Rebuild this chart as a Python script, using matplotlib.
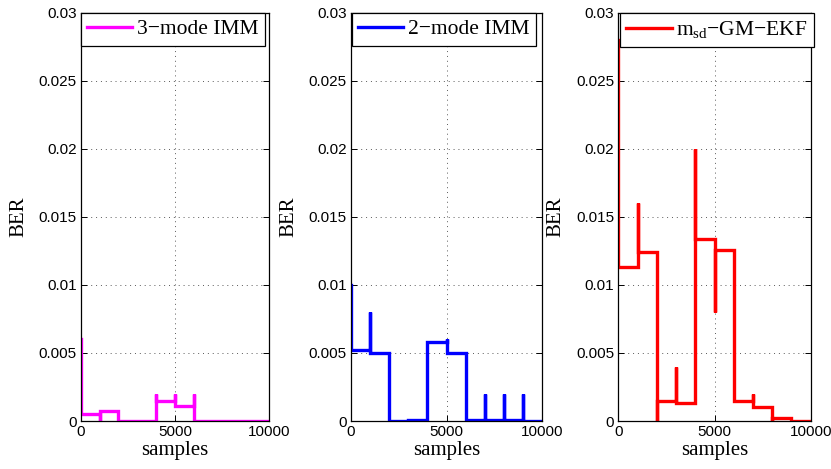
import numpy as np
import matplotlib
matplotlib.use("Agg")
from matplotlib import pyplot as plt

plt.rcParams['font.family'] = ['Liberation Serif', 'DejaVu Serif']
plt.rcParams['mathtext.fontset'] = 'custom'
plt.rcParams['mathtext.rm'] = 'Liberation Serif'
plt.rcParams['mathtext.it'] = 'Liberation Serif:italic'

# block edges (samples) and BER per block of 1000 samples
edges = [0, 1000, 2000, 3000, 4000, 5000, 6000, 7000, 8000, 9000, 10000]

imm3_blocks = [0.0005, 0.0007, 0, 0, 0.0015, 0.0011, 0, 0, 0, 0]
imm3_spikes = [0.006, 0, None, None, 0.002, 0.002, 0.002, None, None, None]

imm2_blocks = [0.0052, 0.005, 0, 0.0001, 0.0058, 0.005, 0.0001, 0.00005, 0.00005, 0.00003]
imm2_spikes = [0.01, 0.008, None, None, None, 0.006, None, 0.002, 0.002, 0.002]

ekf_blocks = [0.0113, 0.0124, 0.0015, 0.0013, 0.0134, 0.0126, 0.0015, 0.001, 0.00025, 0]
ekf_spikes = [0.028, 0.016, 0, 0.004, 0.02, 0.008, None, 0.002, 0, None]

labels = ["3\u2212mode IMM", "2\u2212mode IMM", "m$_{\\mathrm{sd}}$\u2212GM\u2212EKF"]
colors = ["#FF00FF", "#0000FF", "#FF0000"]

x_ticks = [0, 5000, 10000]
y_ticks = [0, 0.005, 0.01, 0.015, 0.02, 0.025, 0.03]
y_ticklabels = ["0", "0.005", "0.01", "0.015", "0.02", "0.025", "0.03"]


def build_steps(blocks, spikes):
    xs, ys = [], []
    for i in range(len(blocks)):
        if spikes[i] is not None:
            xs.append(edges[i])
            ys.append(spikes[i])
        xs += [edges[i], edges[i + 1]]
        ys += [blocks[i], blocks[i]]
    return xs, ys


W, H = 831, 469
fig = plt.figure(figsize=(W / 100, H / 100), dpi=100)

# axes boxes in pixels: left, right
boxes = [(80.7, 269.0), (351.0, 542.0), (618.3, 810.7)]
top_px, bottom_px = 12.7, 421.0
legend_x = [0.0, 0.003, 0.009]

series = [(imm3_blocks, imm3_spikes), (imm2_blocks, imm2_spikes), (ekf_blocks, ekf_spikes)]

for k, (l, r) in enumerate(boxes):
    ax = fig.add_axes([l / W, (H - bottom_px) / H, (r - l) / W, (bottom_px - top_px) / H])
    xs, ys = build_steps(*series[k])
    ax.plot(xs, ys, color=colors[k], lw=2.4, label=labels[k], solid_joinstyle='miter')

    ax.set_xlim(0, 10000)
    ax.set_ylim(0, 0.03)
    ax.set_xticks(x_ticks)
    ax.set_xticklabels([str(t) for t in x_ticks])
    ax.set_yticks(y_ticks)
    ax.set_yticklabels(y_ticklabels)

    ax.grid(True, linestyle=(0, (1, 4)), color='0.35', lw=0.7)
    ax.tick_params(direction='in', top=True, right=True, length=4, width=0.7,
                   labelsize=11, pad=3, labelfontfamily='Liberation Sans')
    for s in ax.spines.values():
        s.set_linewidth(0.9)

    ax.set_xlabel("samples", fontsize=15, labelpad=1)
    ax.set_ylabel("BER", fontsize=15)
    ax.yaxis.set_label_coords(-52.5 / (r - l), 0.5)

    leg = ax.legend(loc='upper left', bbox_to_anchor=(legend_x[k], 1.0), borderaxespad=0,
                    fontsize=15.5, fancybox=False, framealpha=1, edgecolor='black',
                    handlelength=2.1, handletextpad=0.2, borderpad=0.3)
    leg.get_frame().set_linewidth(0.9)

fig.savefig("out.png", dpi=100)
